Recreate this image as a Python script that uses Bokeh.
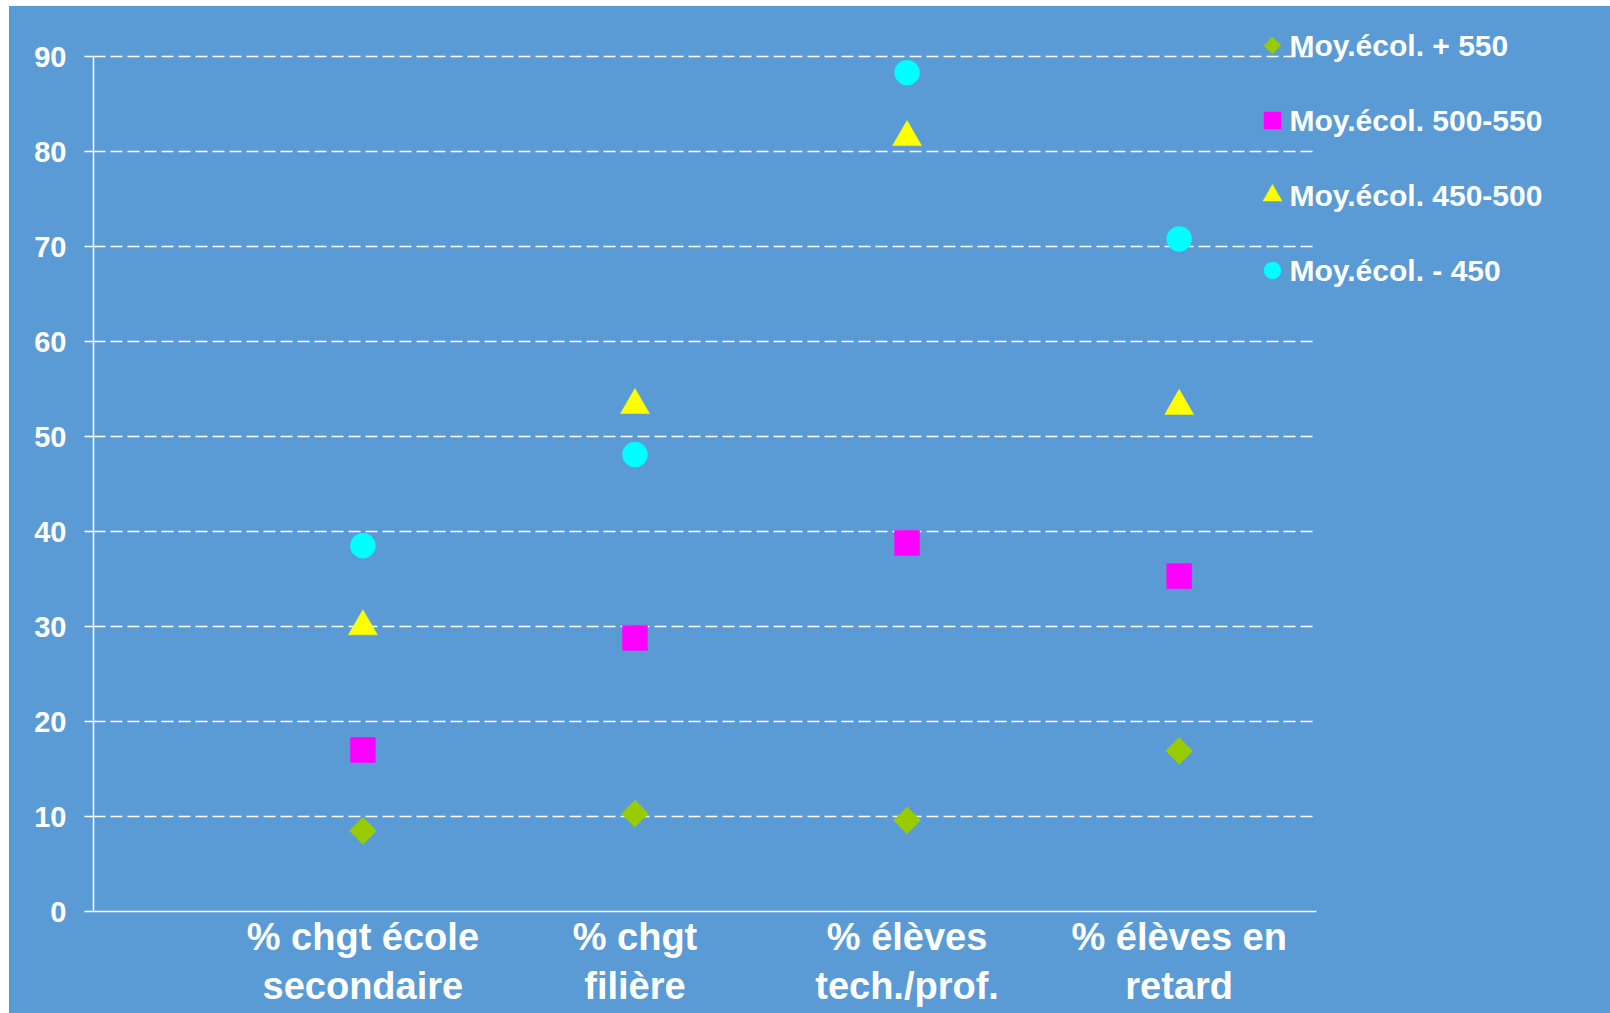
import math

from bokeh.core.properties import value
from bokeh.embed import file_html
from bokeh.models import FixedTicker, Range1d
from bokeh.plotting import figure
from bokeh.resources import INLINE

# ---- data -------------------------------------------------------------
categories = [
    "% chgt école\nsecondaire",
    "% chgt\nfilière",
    "% élèves\ntech./prof.",
    "% élèves en\nretard",
]
cat_pos = [1, 2, 3, 4]

series_names = ["Moy.écol. + 550", "Moy.écol. 500-550", "Moy.écol. 450-500", "Moy.écol. - 450"]
moy_plus_550 = [8.5, 10.3, 9.6, 16.9]
moy_500_550 = [17.0, 28.8, 38.8, 35.3]
moy_450_500 = [30.0, 53.3, 81.5, 53.2]
moy_moins_450 = [38.5, 48.1, 88.3, 70.8]
series_values = [moy_plus_550, moy_500_550, moy_450_500, moy_moins_450]

y_ticks = [0, 10, 20, 30, 40, 50, 60, 70, 80, 90]

# ---- styling ----------------------------------------------------------
BG = "#5B9BD5"
WHITE = "#FFFFFF"
FONT = "Liberation Sans"
# marker, size, angle, colour for each series
styles = [
    ("square", 19, math.pi / 4, "#99CC00"),
    ("square", 25, 0.0, "#FF00FF"),
    ("triangle", 29, 0.0, "#FFFF00"),
    ("circle", 25, 0.0, "#00FFFF"),
]
legend_styles = [
    ("square", 12, math.pi / 4),
    ("square", 17, 0.0),
    ("triangle", 19, 0.0),
    ("circle", 17, 0.0),
]

# page geometry (pixels) of the plotting area
FRAME_LEFT = 93
PX_PER_X = 272.1
X_START = 0.01
AXIS_END = X_START + (1316 - FRAME_LEFT) / PX_PER_X
X_END = X_START + (1610 - FRAME_LEFT) / PX_PER_X
ZERO_Y = 911
PX_PER_Y = 9.5
Y_END = (ZERO_Y - 27) / PX_PER_Y


def px_to_x(px):
    return X_START + (px - FRAME_LEFT) / PX_PER_X


def py_to_y(py):
    return (ZERO_Y - py) / PX_PER_Y


p = figure(
    width=1601,
    height=1007,
    margin=(6, 0, 0, 9),
    x_range=Range1d(X_START, X_END),
    y_range=Range1d(0, Y_END),
    output_backend="svg",
    toolbar_location=None,
    min_border_left=84,
    min_border_right=0,
    min_border_top=21,
    min_border_bottom=102,
)
p.styles = {"background-color": BG}
p.background_fill_color = BG
p.border_fill_color = BG
p.outline_line_color = None

# y axis
p.yaxis.ticker = FixedTicker(ticks=y_ticks)
p.yaxis.bounds = (0, 90)
p.yaxis.axis_line_color = WHITE
p.yaxis.axis_line_width = 1.5
p.yaxis.major_tick_line_color = WHITE
p.yaxis.major_tick_line_width = 1.5
p.yaxis.major_tick_out = 9
p.yaxis.major_tick_in = 0
p.yaxis.minor_tick_line_color = None
p.yaxis.major_label_standoff = 18
p.yaxis.major_label_text_color = WHITE
p.yaxis.major_label_text_font = FONT
p.yaxis.major_label_text_font_style = "bold"
p.yaxis.major_label_text_font_size = "29px"

# x axis with the category names
p.xaxis.ticker = FixedTicker(ticks=cat_pos)
p.xaxis.major_label_overrides = dict(zip(cat_pos, categories))
p.xaxis.bounds = (X_START, AXIS_END)
p.xaxis.axis_line_color = WHITE
p.xaxis.axis_line_width = 1.5
p.xaxis.major_tick_line_color = None
p.xaxis.major_tick_out = 0
p.xaxis.major_tick_in = 0
p.xaxis.minor_tick_line_color = None
p.xaxis.major_label_standoff = 4
p.xaxis.major_label_text_color = WHITE
p.xaxis.major_label_text_font = FONT
p.xaxis.major_label_text_font_style = "bold"
p.xaxis.major_label_text_font_size = "38px"
p.xaxis.major_label_text_line_height = 1.18

p.xgrid.grid_line_color = None
p.ygrid.ticker = FixedTicker(ticks=y_ticks)
p.ygrid.bounds = (-1, 91)
p.ygrid.cross_bounds = (X_START, AXIS_END)
p.ygrid.grid_line_color = WHITE
p.ygrid.grid_line_width = 1.3
p.ygrid.grid_line_dash = "12 5"

# data points
for vals, (marker, size, angle, color) in zip(series_values, styles):
    p.scatter(
        x=cat_pos, y=vals, marker=marker, size=size, angle=angle,
        fill_color=color, line_color=color, line_width=0.5,
    )

# legend (markers + texts)
legend_rows = [45, 120, 195, 270]
for name, row_y, (marker, size, angle), (_, _, _, color) in zip(
        series_names, legend_rows, legend_styles, styles):
    p.scatter(
        x=[px_to_x(1272)], y=[py_to_y(row_y)], marker=marker, size=size,
        angle=angle, fill_color=color, line_color=color, line_width=0.5,
    )
p.text(
    x=[px_to_x(1289)] * len(series_names),
    y=[py_to_y(r) for r in legend_rows],
    text=series_names,
    text_color=WHITE, text_font=value(FONT), text_font_style="bold",
    text_font_size="30px", text_align="left", text_baseline="middle",
)

open("out.html", "w").write(file_html(p, INLINE))
